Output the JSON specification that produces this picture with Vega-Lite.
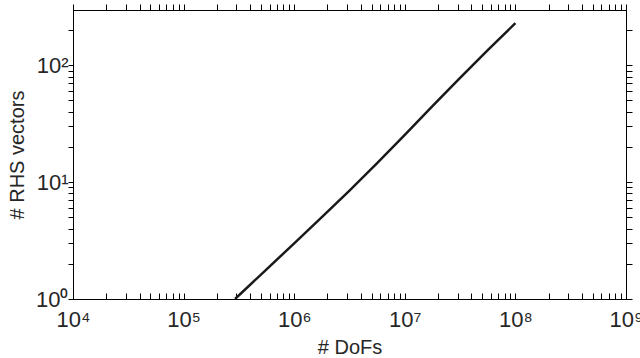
{
  "$schema": "https://vega.github.io/schema/vega-lite/v6.json",
  "width": 553,
  "height": 289,
  "autosize": "none",
  "padding": {"left": 73, "top": 10, "right": 14, "bottom": 59},
  "background": "white",
  "config": {
    "view": {"stroke": "black", "strokeWidth": 1},
    "axis": {
      "labelFont": "Liberation Sans",
      "titleFont": "Liberation Sans",
      "labelColor": "#262626",
      "titleColor": "#262626",
      "domainColor": "black",
      "tickColor": "black",
      "tickWidth": 1,
      "ticks": true,
      "grid": false
    }
  },
  "data": {
    "values": [
      {"dofs": 291700, "rhs": 1.0},
      {"dofs": 562300, "rhs": 1.795},
      {"dofs": 1000000, "rhs": 2.992},
      {"dofs": 1778000, "rhs": 5.012},
      {"dofs": 3162000, "rhs": 8.472},
      {"dofs": 5623000, "rhs": 14.55},
      {"dofs": 10000000, "rhs": 25.41},
      {"dofs": 17780000, "rhs": 44.67},
      {"dofs": 31620000, "rhs": 78.16},
      {"dofs": 56230000, "rhs": 134.9},
      {"dofs": 100000000, "rhs": 229.1}
    ]
  },
  "resolve": {"axis": {"x": "independent", "y": "independent"}},
  "layer": [
    {
      "mark": {"type": "line", "color": "#1a1a1a", "strokeWidth": 2.5, "clip": true},
      "encoding": {
        "x": {
          "field": "dofs", "type": "quantitative",
          "scale": {"type": "log", "domain": [10000, 1000000000], "nice": false},
          "axis": {
            "orient": "bottom",
            "title": "# DoFs",
            "titleFontSize": 20,
            "titleFontWeight": "normal",
            "titlePadding": 7,
            "labelFontSize": 22,
            "labelPadding": 16,
            "labelFlush": false,
            "labelOverlap": false,
            "tickSize": -6,
            "values": [10000,20000,30000,40000,50000,60000,70000,80000,90000,100000,200000,300000,400000,500000,600000,700000,800000,900000,1000000,2000000,3000000,4000000,5000000,6000000,7000000,8000000,9000000,10000000,20000000,30000000,40000000,50000000,60000000,70000000,80000000,90000000,100000000,200000000,300000000,400000000,500000000,600000000,700000000,800000000,900000000,1000000000],
            "labelExpr": "abs(log(datum.value)/LN10 - round(log(datum.value)/LN10)) < 0.001 ? '10' + ['⁰','¹','²','³','⁴','⁵','⁶','⁷','⁸','⁹'][round(log(datum.value)/LN10)] : ''",
            "encode": {"ticks": {"update": {"y2": {"signal": "abs(log(datum.value)/LN10 - round(log(datum.value)/LN10)) < 0.001 ? -7 : -4"}}}}
          }
        },
        "y": {
          "field": "rhs", "type": "quantitative",
          "scale": {"type": "log", "domain": [1, 297], "nice": false},
          "axis": {
            "orient": "left",
            "title": "# RHS vectors",
            "titleFontSize": 20,
            "titleFontWeight": "normal",
            "titlePadding": 8,
            "labelFontSize": 22,
            "labelPadding": 0,
            "labelOverlap": false,
            "labelBaseline": "middle",
            "tickSize": 5,
            "values": [1,2,3,4,5,6,7,8,9,10,20,30,40,50,60,70,80,90,100,200],
            "labelExpr": "abs(log(datum.value)/LN10 - round(log(datum.value)/LN10)) < 0.001 ? '10' + ['⁰','¹','²','³','⁴','⁵','⁶','⁷','⁸','⁹'][round(log(datum.value)/LN10)] : ''",
            "encode": {"ticks": {"update": {"x2": {"signal": "abs(log(datum.value)/LN10 - round(log(datum.value)/LN10)) < 0.001 ? 7 : 4"}}}}
          }
        }
      }
    },
    {
      "mark": {"type": "line", "opacity": 0},
      "encoding": {
        "x": {
          "field": "dofs", "type": "quantitative",
          "scale": {"type": "log", "domain": [10000, 1000000000], "nice": false},
          "axis": {
            "orient": "top",
            "title": null,
            "labels": false,
            "tickSize": 6,
            "values": [10000,20000,30000,40000,50000,60000,70000,80000,90000,100000,200000,300000,400000,500000,600000,700000,800000,900000,1000000,2000000,3000000,4000000,5000000,6000000,7000000,8000000,9000000,10000000,20000000,30000000,40000000,50000000,60000000,70000000,80000000,90000000,100000000,200000000,300000000,400000000,500000000,600000000,700000000,800000000,900000000,1000000000],
            "encode": {"ticks": {"update": {"y2": {"signal": "abs(log(datum.value)/LN10 - round(log(datum.value)/LN10)) < 0.001 ? 7 : 4"}}}}
          }
        },
        "y": {
          "field": "rhs", "type": "quantitative",
          "scale": {"type": "log", "domain": [1, 297], "nice": false},
          "axis": {
            "orient": "right",
            "title": null,
            "labels": false,
            "tickSize": 6,
            "values": [1,2,3,4,5,6,7,8,9,10,20,30,40,50,60,70,80,90,100,200],
            "encode": {"ticks": {"update": {"x2": {"signal": "abs(log(datum.value)/LN10 - round(log(datum.value)/LN10)) < 0.001 ? -7 : -4"}}}}
          }
        }
      }
    }
  ]
}
